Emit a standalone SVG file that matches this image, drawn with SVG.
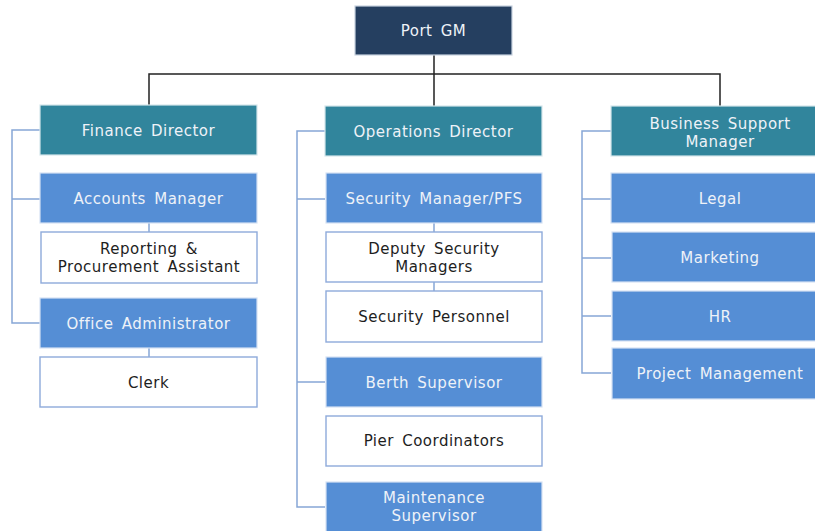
<svg xmlns="http://www.w3.org/2000/svg" width="815" height="531" viewBox="0 0 815 531">
  <style>
    .box rect { stroke-width: 1.2; }
    .top rect { fill: #253f60; stroke: #c9d3e0; }
    .dir rect { fill: #31859c; stroke: #d5e6ec; }
    .mgr rect { fill: #558ed5; stroke: #d6e2f4; }
    .staff rect { fill: #ffffff; stroke: #8eaadb; stroke-width: 1.4; }
    text { font-family: "DejaVu Sans", "Liberation Sans", sans-serif; font-size: 15px; text-anchor: middle; letter-spacing: 0.5px; word-spacing: 3px; }
    .top text, .dir text, .mgr text { fill: #eef2f8; }
    .staff text { fill: #1e1e1e; }
    .lead { fill: none; stroke: #222222; stroke-width: 1.5; }
    .tree { fill: none; stroke: #86a6d6; stroke-width: 1.5; }
  </style>

  <!-- connectors -->
  <g id="connectors">
    <path class="lead" d="M434 55 V106 M149 105 V74 H720 V106"/>
    <!-- finance branch -->
    <path class="tree" d="M40 130 H12 V323 H40 M12 199 H40"/>
    <path class="tree" d="M149 223 V232 M149 348 V357"/>
    <!-- operations branch -->
    <path class="tree" d="M325 131 H297 V507 H325 M297 199 H325 M297 382 H325"/>
    <path class="tree" d="M434 223 V232 M434 282 V291"/>
    <!-- business support branch -->
    <path class="tree" d="M611 131 H582 V373 H611 M582 199 H611 M582 258 H611 M582 316 H611"/>
  </g>

  <g id="port-gm" class="box top">
    <rect x="355" y="6" width="157" height="49"/>
    <text x="433.5" y="36">Port GM</text>
  </g>

  <!-- finance -->
  <g id="finance-director" class="box dir">
    <rect x="40" y="105" width="217" height="50"/>
    <text x="148.5" y="135.5">Finance Director</text>
  </g>
  <g id="accounts-manager" class="box mgr">
    <rect x="40" y="173" width="217" height="50"/>
    <text x="148.5" y="203.5">Accounts Manager</text>
  </g>
  <g id="reporting-assistant" class="box staff">
    <rect x="41" y="232" width="216" height="51"/>
    <text x="149" y="254">Reporting &amp;</text>
    <text x="149" y="272">Procurement Assistant</text>
  </g>
  <g id="office-administrator" class="box mgr">
    <rect x="40" y="298" width="217" height="50"/>
    <text x="148.5" y="328.5">Office Administrator</text>
  </g>
  <g id="clerk" class="box staff">
    <rect x="40" y="357" width="217" height="50"/>
    <text x="148.5" y="387.5">Clerk</text>
  </g>

  <!-- operations -->
  <g id="operations-director" class="box dir">
    <rect x="325" y="106" width="217" height="50"/>
    <text x="433.5" y="137">Operations Director</text>
  </g>
  <g id="security-manager" class="box mgr">
    <rect x="326" y="173" width="216" height="50"/>
    <text x="434" y="203.5">Security Manager/PFS</text>
  </g>
  <g id="deputy-security-managers" class="box staff">
    <rect x="326" y="232" width="216" height="50"/>
    <text x="434" y="254">Deputy Security</text>
    <text x="434" y="272">Managers</text>
  </g>
  <g id="security-personnel" class="box staff">
    <rect x="326" y="291" width="216" height="51"/>
    <text x="434" y="321.5">Security Personnel</text>
  </g>
  <g id="berth-supervisor" class="box mgr">
    <rect x="326" y="357" width="216" height="50"/>
    <text x="434" y="387.5">Berth Supervisor</text>
  </g>
  <g id="pier-coordinators" class="box staff">
    <rect x="326" y="416" width="216" height="50"/>
    <text x="434" y="446">Pier Coordinators</text>
  </g>
  <g id="maintenance-supervisor" class="box mgr">
    <rect x="326" y="482" width="216" height="60"/>
    <text x="434" y="503">Maintenance</text>
    <text x="434" y="521">Supervisor</text>
  </g>

  <!-- business support -->
  <g id="business-support-manager" class="box dir">
    <rect x="611" y="106" width="218" height="50"/>
    <text x="720" y="128.5">Business Support</text>
    <text x="720" y="146.5">Manager</text>
  </g>
  <g id="legal" class="box mgr">
    <rect x="611" y="173" width="218" height="50"/>
    <text x="720" y="203.5">Legal</text>
  </g>
  <g id="marketing" class="box mgr">
    <rect x="612" y="232" width="217" height="50"/>
    <text x="720" y="262.5">Marketing</text>
  </g>
  <g id="hr" class="box mgr">
    <rect x="612" y="291" width="217" height="50"/>
    <text x="720" y="321.5">HR</text>
  </g>
  <g id="project-management" class="box mgr">
    <rect x="612" y="348" width="217" height="51"/>
    <text x="720" y="379">Project Management</text>
  </g>
</svg>
